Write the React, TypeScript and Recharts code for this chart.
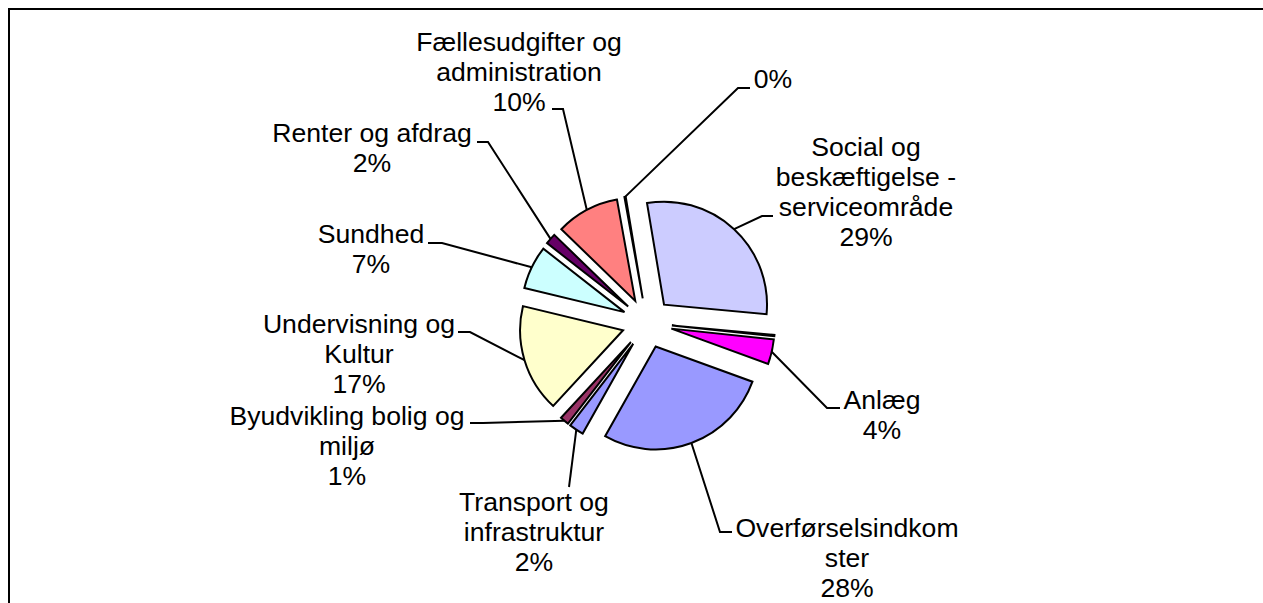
import React from 'react';
import { PieChart, Pie, Cell } from 'recharts';

// Udgifter fordelt på områder (andele i procent)
const CATEGORIES = [
  'Social og\nbeskæftigelse -\nserviceområde',
  '',
  'Anlæg',
  'Overførselsindkom\nster',
  'Transport og\ninfrastruktur',
  'Byudvikling bolig og\nmiljø',
  'Undervisning og\nKultur',
  'Sundhed',
  'Renter og afdrag',
  'Fællesudgifter og\nadministration',
  '',
];
const VALUES = [29.1, 0.2, 3.9, 27.6, 2.3, 1.4, 16.9, 6.8, 1.7, 9.9, 0.2];
const COLORS = [
  '#CCCCFF', '#000080', '#FF00FF', '#9999FF', '#9999FF', '#993366',
  '#FFFFCC', '#CCFFFF', '#660066', '#FF8080', '#0066CC',
];

// label placement (svg coords): text centre x, first baseline y, leader elbow + end
type LabelPos = { x: number; y: number; elbow: [number, number]; end: [number, number] };
const LABEL_LAYOUT: (LabelPos | null)[] = [
  { x: 858, y: 148, elbow: [754, 208], end: [765, 208] },
  null,
  { x: 874, y: 401, elbow: [819, 400], end: [832, 400] },
  { x: 839, y: 529, elbow: [712, 524], end: [724, 524] },
  { x: 526, y: 503, elbow: [561, 479], end: [561, 479] },
  { x: 339, y: 417, elbow: [475, 415], end: [462, 415] },
  { x: 351, y: 325, elbow: [462, 324], end: [450, 324] },
  { x: 363, y: 235, elbow: [434, 235], end: [420, 235] },
  { x: 364, y: 134, elbow: [480, 134], end: [469, 134] },
  { x: 511, y: 43, elbow: [555, 101], end: [544, 101] },
  { x: 765, y: 80, elbow: [730, 80], end: [742, 80] },
];

const WIDTH = 1280;
const HEIGHT = 610;
const CX = 634;
const CY = 310;
const RADIUS = 103;
const EXPLODE = 25;
const START_ANGLE = 99.5;
const LINE_HEIGHT = 30;
const FONT_SIZE = 26.6;
const RAD = Math.PI / 180;
const FONT = '"Liberation Sans", Arial, Helvetica, sans-serif';

const data = CATEGORIES.map((name, i) => ({ name, value: VALUES[i] }));
const total = VALUES.reduce((a, b) => a + b, 0);

// every slice is pulled out from the centre along its own mid angle
const offsets = VALUES.map((v, i) => {
  const before = VALUES.slice(0, i).reduce((a, b) => a + b, 0);
  const mid = START_ANGLE - ((before + v / 2) / total) * 360;
  return { dx: EXPLODE * Math.cos(mid * RAD), dy: -EXPLODE * Math.sin(mid * RAD) };
});

const renderLabel = (slice: number) => (props: any) => {
  if (props.index !== slice) return null;
  const lay = LABEL_LAYOUT[slice];
  if (!lay) return null;
  const { cx, cy, midAngle, outerRadius } = props;
  const ax = cx + outerRadius * Math.cos(-midAngle * RAD);
  const ay = cy + outerRadius * Math.sin(-midAngle * RAD);
  const pct = props.percent != null ? props.percent : VALUES[slice] / total;
  const name = CATEGORIES[slice];
  const lines = name ? name.split('\n') : [];
  lines.push(`${Math.round(pct * 100)}%`);
  return (
    <g>
      <polyline
        points={`${ax},${ay} ${lay.elbow[0]},${lay.elbow[1]} ${lay.end[0]},${lay.end[1]}`}
        fill="none"
        stroke="#000"
        strokeWidth={2}
      />
      <text textAnchor="middle" fontSize={FONT_SIZE} fontFamily={FONT} fill="#000">
        {lines.map((l, k) => (
          <tspan key={k} x={lay.x} y={lay.y + k * LINE_HEIGHT}>
            {l}
          </tspan>
        ))}
      </text>
    </g>
  );
};

export default function App() {
  return (
    <div
      style={{
        position: 'fixed',
        left: 8,
        top: 8,
        width: WIDTH,
        height: HEIGHT,
        background: '#fff',
        borderTop: '2px solid #000',
        borderLeft: '2px solid #000',
        boxSizing: 'border-box',
        overflow: 'hidden',
      }}
    >
      <div style={{ position: 'absolute', left: -2, top: -2 }}>
        <PieChart width={WIDTH} height={HEIGHT}>
          {VALUES.map((_, i) => (
            <Pie
              key={`slice-${i}`}
              data={data}
              dataKey="value"
              nameKey="name"
              cx={CX + offsets[i].dx}
              cy={CY + offsets[i].dy}
              outerRadius={RADIUS}
              startAngle={START_ANGLE}
              endAngle={START_ANGLE - 360}
              isAnimationActive={false}
              labelLine={false}
              label={renderLabel(i)}
            >
              {data.map((entry, j) => (
                <Cell
                  key={`cell-${i}-${j}`}
                  fill={j === i ? COLORS[j] : 'none'}
                  stroke={j === i ? '#000' : 'none'}
                  strokeWidth={2}
                />
              ))}
            </Pie>
          ))}
        </PieChart>
      </div>
    </div>
  );
}
